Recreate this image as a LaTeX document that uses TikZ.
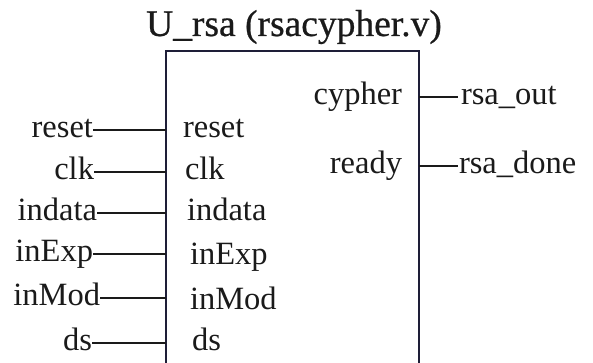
\documentclass[tikz,border=0pt]{standalone}
\usepackage{fontspec}
\setmainfont{Liberation Serif}
\newfontfamily\titlefont[FakeBold=0.6]{Liberation Serif}
\definecolor{ink}{HTML}{1A1A1A}
\definecolor{frame}{HTML}{1E1E38}
\begin{document}
\begin{tikzpicture}[x=1pt,y=-1pt,
  pinlabel/.style={inner sep=0pt,outer sep=0pt,text=ink,font=\fontsize{32.5}{34}\selectfont},
  outlabelL/.style={pinlabel,anchor=base east},
  inlabelL/.style={pinlabel,anchor=base west},
  inlabelR/.style={pinlabel,anchor=base east},
  outlabelR/.style={pinlabel,anchor=base west},
  wire/.style={draw=ink,line width=1.3pt},
  body/.style={draw=frame,line width=1.6pt},
  midx/.style={yshift=7.5pt}]
\useasboundingbox (0,0) rectangle (593,363);

% module title
\node[inner sep=0pt,anchor=base,text=ink,font=\titlefont\fontsize{37.5}{39}\selectfont] (title) at (294,36) {U\_rsa (rsacypher.v)};

% module body (continues below the visible area)
\coordinate (bl) at (166,380);
\coordinate (br) at (419,380);
\draw[body] (bl) |- (419,51) -- (br);

% port attachment points on the left edge
\coordinate (pReset)  at (166,130);
\coordinate (pClk)    at (166,172);
\coordinate (pIndata) at (166,213);
\coordinate (pInExp)  at (166,254);
\coordinate (pInMod)  at (166,298);
\coordinate (pDs)     at (166,343);
% port attachment points on the right edge
\coordinate (pCypher) at (419,97);
\coordinate (pReady)  at (419,166);

% inside port names (placed by baseline, 7.5 below the wire level)
\node[inlabelL] (iReset)  at (183,137.5) {reset};
\node[inlabelL] (iClk)    at (185,179.5) {clk};
\node[inlabelL] (iIndata) at (187,220.5) {indata};
\node[inlabelL] (iInExp)  at (190,264.5) {inExp};
\node[inlabelL] (iInMod)  at (190,309.5) {inMod};
\node[inlabelL] (iDs)     at (192,350.5) {ds};
\node[inlabelR] (iCypher) at (402,104.5) {cypher};
\node[inlabelR] (iReady)  at (402,173.5) {ready};

% external signals
\node[outlabelL] (sReset)  at (93,137.5)  {reset};
\node[outlabelL] (sClk)    at (94,179.5)  {clk};
\node[outlabelL] (sIndata) at (97,220.5)  {indata};
\node[outlabelL] (sInExp)  at (93,261.5)  {inExp};
\node[outlabelL] (sInMod)  at (100,305.5) {inMod};
\node[outlabelL] (sDs)     at (92,350.5)  {ds};
\node[outlabelR] (sOut)    at (461,104.5) {rsa\_out};
\node[outlabelR] (sDone)   at (459,173.5) {rsa\_done};

% wires
\draw[wire] ([midx]sReset.base east)  -- (pReset);
\draw[wire] ([midx]sClk.base east)    -- (pClk);
\draw[wire] ([midx]sIndata.base east) -- (pIndata);
\draw[wire] ([midx]sInExp.base east)  -- (pInExp);
\draw[wire] ([midx]sInMod.base east)  -- (pInMod);
\draw[wire] ([midx]sDs.base east)     -- (pDs);
\draw[wire] (pCypher) -- ([midx,xshift=-3pt]sOut.base west);
\draw[wire] (pReady)  -- ([midx,xshift=-1pt]sDone.base west);
\end{tikzpicture}
\end{document}
